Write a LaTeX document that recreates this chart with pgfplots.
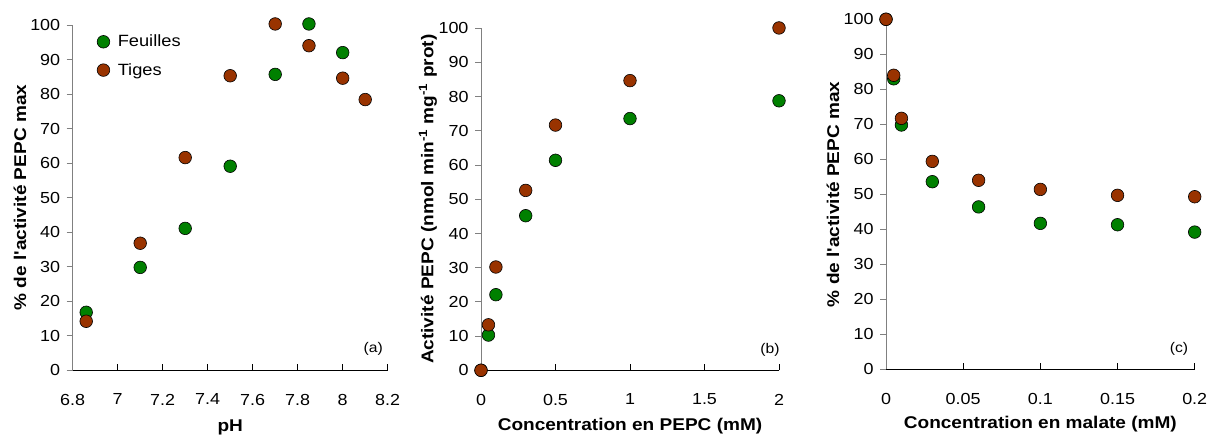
\documentclass[border=0pt]{standalone}
\usepackage{fontspec}
\setmainfont[FakeStretch=1.12, Ligatures=TeXOff]{Liberation Sans}
\usepackage{pgfplots}
\pgfplotsset{compat=1.18}
\definecolor{fgreen}{RGB}{0,128,0}
\definecolor{tbrown}{RGB}{153,51,0}
\definecolor{axgray}{RGB}{128,128,128}
\pgfplotsset{
  panel/.style={
    scale only axis,
    axis lines=left,
    axis line style={-},
    x axis line style={black, line width=0.9pt},
    y axis line style={axgray, line width=0.9pt},
    xtick align=inside, ytick align=outside,
    major tick length=6pt,
    x tick style={black, line width=0.8pt},
    y tick style={axgray, line width=0.8pt},
    ymin=0, ymax=100, ytick={0,10,...,100},
    clip=false,
    tick label style={font=\fontsize{16}{16}\selectfont},
    xticklabel style={yshift=-20pt},
    yticklabel style={xshift=-3pt},
    /pgf/number format/assume math mode=true,
    every axis y label/.style={rotate=90, anchor=center, font=\bfseries\fontsize{17}{17}\selectfont},
    every axis x label/.style={anchor=center, font=\bfseries\fontsize{17}{17}\selectfont},
  },
  feu/.style={only marks, mark=*, mark size=6.3pt, mark options={fill=fgreen, draw=black, line width=0.6pt}},
  tig/.style={only marks, mark=*, mark size=6.3pt, mark options={fill=tbrown, draw=black, line width=0.6pt}},
}
\begin{document}
\begin{tikzpicture}[x=1pt,y=1pt]
\useasboundingbox (0,0) rectangle (1208,435);
% Panel (a)
\begin{axis}[panel,
  at={(72.7pt,64.7pt)}, anchor=origin,
  width=315pt, height=345.3pt,
  xmin=6.8, xmax=8.2, xtick={6.8,7,...,8.2},
  xticklabels={6.8,7,7.2,7.4,7.6,7.8,8,8.2},
  xlabel={pH}, ylabel={\% de l'activité PEPC max},
  xlabel style={at={(axis description cs:0.5,-0.164)}},
  ylabel style={at={(axis description cs:-0.167,0.5)}},
  legend style={draw=none, fill=none, at={(axis description cs:0.077,0.977)}, anchor=north west,
    font=\fontsize{16.3}{17}\selectfont, row sep=11pt, inner sep=0pt,
    nodes={inner sep=2pt},
    /tikz/every odd column/.append style={column sep=6pt}},
  legend cell align=left,
  legend image code/.code={\draw[#1] plot coordinates {(0.1cm,0cm)};},
]
\addplot[feu] coordinates {(6.86,16.8) (7.1,29.8) (7.3,41.1) (7.5,59.1) (7.7,85.7) (7.85,100.3) (8.0,92.0)};
\addlegendentry{Feuilles}
\addplot[tig] coordinates {(6.86,14.2) (7.1,36.8) (7.3,61.6) (7.5,85.3) (7.7,100.3) (7.85,94.0) (8.0,84.6) (8.1,78.4)};
\addlegendentry{Tiges}
\node[font=\fontsize{14}{14}\selectfont] at (axis description cs:0.954,0.061) {(a)};
\end{axis}
% Panel (b)
\begin{axis}[panel,
  at={(481pt,64.7pt)}, anchor=origin,
  width=298pt, height=342pt,
  xmin=0, xmax=2, xtick={0,0.5,1,1.5,2},
  xticklabels={0,0.5,1,1.5,2},
  xlabel={Concentration en PEPC (mM)},
  ylabel={Activité PEPC (nmol min\textsuperscript{-1} mg\textsuperscript{-1} prot)},
  xlabel style={at={(axis description cs:0.5,-0.163)}},
  ylabel style={at={(axis description cs:-0.178,0.5)}},
]
\addplot[feu] coordinates {(0,0) (0.05,10.3) (0.1,22.1) (0.3,45.2) (0.5,61.4) (1.0,73.6) (2.0,78.8)};
\addplot[tig] coordinates {(0,0) (0.05,13.3) (0.1,30.2) (0.3,52.6) (0.5,71.7) (1.0,84.7) (2.0,100.1)};
\node[font=\fontsize{14}{14}\selectfont] at (axis description cs:0.970,0.061) {(b)};
\end{axis}
% Panel (c)
\begin{axis}[panel,
  at={(886pt,65.7pt)}, anchor=origin,
  width=308.7pt, height=350pt,
  xmin=0, xmax=0.2, xtick={0,0.05,0.1,0.15,0.2},
  xticklabels={0,0.05,0.1,0.15,0.2},
  xlabel={Concentration en malate (mM)},
  ylabel={\% de l'activité PEPC max},
  xlabel style={at={(axis description cs:0.5,-0.156)}},
  ylabel style={at={(axis description cs:-0.172,0.5)}},
]
\addplot[feu] coordinates {(0,100) (0.005,83.0) (0.01,69.8) (0.03,53.6) (0.06,46.4) (0.1,41.7) (0.15,41.3) (0.2,39.2)};
\addplot[tig] coordinates {(0,100) (0.005,84.0) (0.01,71.7) (0.03,59.4) (0.06,54.0) (0.1,51.4) (0.15,49.7) (0.2,49.3)};
\node[font=\fontsize{14}{14}\selectfont] at (axis description cs:0.949,0.057) {(c)};
\end{axis}
\end{tikzpicture}
\end{document}
